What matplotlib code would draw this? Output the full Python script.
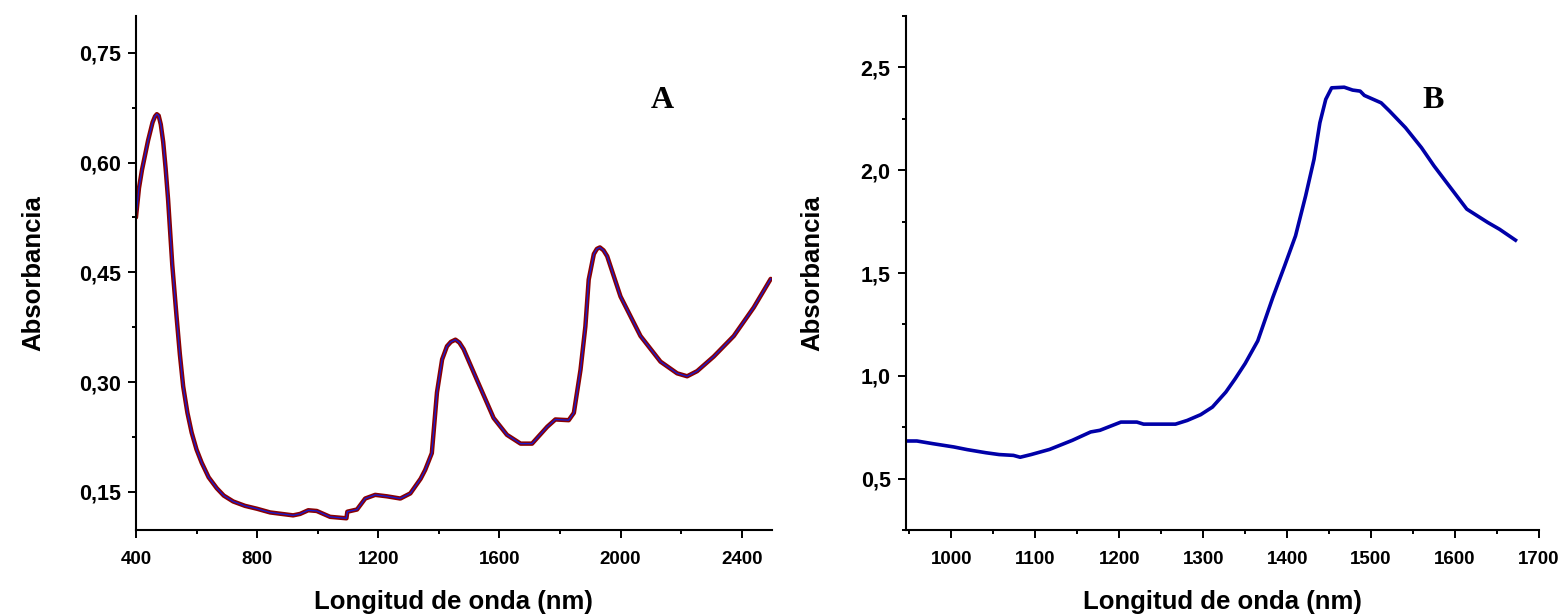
import matplotlib
matplotlib.use("Agg")
import matplotlib.pyplot as plt
from matplotlib.ticker import MultipleLocator, FuncFormatter

# Spectrum A: full range, 400-2500 nm
wavelength_a = [400, 410, 420, 440, 455, 463, 469, 475, 482, 490, 498, 506,
                520, 534, 545, 556, 570, 584, 600, 617, 640, 667, 690, 721,
                760, 800, 843, 900, 919, 942, 969, 997, 1041, 1095, 1098,
                1130, 1157, 1190, 1229, 1273, 1306, 1340, 1355, 1377, 1394,
                1411, 1427, 1440, 1455, 1468, 1482, 1526, 1581, 1625, 1670,
                1708, 1758, 1785, 1829, 1846, 1868, 1884, 1895, 1912, 1922,
                1932, 1944, 1956, 2000, 2066, 2132, 2187, 2220, 2253, 2275,
                2308, 2374, 2440, 2496]
absorbance_a = [0.525, 0.565, 0.590, 0.630, 0.655, 0.663, 0.666, 0.664,
                0.652, 0.628, 0.592, 0.550, 0.460, 0.390, 0.338, 0.294,
                0.258, 0.231, 0.208, 0.190, 0.170, 0.155, 0.145, 0.137,
                0.131, 0.127, 0.122, 0.119, 0.118, 0.120, 0.125, 0.124,
                0.116, 0.114, 0.123, 0.126, 0.141, 0.146, 0.144, 0.141,
                0.148, 0.168, 0.180, 0.203, 0.286, 0.331, 0.349, 0.355,
                0.358, 0.354, 0.345, 0.303, 0.251, 0.228, 0.216, 0.216,
                0.239, 0.249, 0.248, 0.258, 0.317, 0.376, 0.440, 0.475,
                0.482, 0.484, 0.480, 0.472, 0.417, 0.363, 0.328, 0.312,
                0.308, 0.315, 0.323, 0.335, 0.363, 0.402, 0.441]

# Spectrum B: NIR range, 950-1670 nm
wavelength_b = [946, 959, 978, 1003, 1019, 1041, 1057, 1074, 1082, 1095,
                1117, 1144, 1166, 1177, 1202, 1221, 1229, 1267, 1281, 1297,
                1311, 1327, 1338, 1350, 1365, 1383, 1397, 1410, 1422, 1432,
                1439, 1446, 1453, 1468, 1478, 1487, 1492, 1512, 1522, 1541,
                1560, 1575, 1590, 1614, 1639, 1653, 1672]
absorbance_b = [0.683, 0.683, 0.670, 0.654, 0.641, 0.626, 0.617, 0.613,
                0.604, 0.617, 0.642, 0.686, 0.727, 0.735, 0.775, 0.775,
                0.765, 0.765, 0.783, 0.811, 0.848, 0.921, 0.985, 1.06,
                1.17, 1.382, 1.535, 1.681, 1.875, 2.053, 2.231, 2.345,
                2.401, 2.404, 2.390, 2.385, 2.364, 2.328, 2.288, 2.207,
                2.110, 2.021, 1.940, 1.811, 1.746, 1.713, 1.660]

plt.rcParams['font.family'] = ['Liberation Sans', 'DejaVu Sans']
plt.rcParams['font.weight'] = 'bold'


def comma_fmt(decimals):
    """Decimal comma tick labels"""
    return FuncFormatter(lambda v, pos: f"{v:.{decimals}f}".replace('.', ','))


def style_axes(ax, ylabelpad):
    """Origin-like axes: left/bottom spines, outward ticks"""
    for side in ('top', 'right'):
        ax.spines[side].set_visible(False)
    for side in ('left', 'bottom'):
        ax.spines[side].set_linewidth(1.5)
    ax.tick_params(which='major', direction='out', length=6, width=1.4)
    ax.tick_params(which='minor', direction='out', length=3, width=1.4)
    ax.tick_params(axis='x', which='major', pad=9, labelsize=13.5)
    ax.tick_params(axis='y', which='major', pad=5, labelsize=15.5)
    for lab in ax.get_xticklabels() + ax.get_yticklabels():
        lab.set_fontweight('bold')
    ax.set_xlabel('Longitud de onda (nm)', fontsize=18.5, fontweight='bold',
                  labelpad=16)
    ax.set_ylabel('Absorbancia', fontsize=18.5, fontweight='bold',
                  labelpad=ylabelpad)


fig = plt.figure(figsize=(15.68, 6.14), dpi=100)
ax_a = fig.add_axes([0.0867, 0.1368, 0.4056, 0.837])
ax_b = fig.add_axes([0.5778, 0.1368, 0.4037, 0.837])

# Panel A: dark red trace with the blue one on top
ax_a.plot(wavelength_a, absorbance_a, color='#8b0000', linewidth=3.2,
          solid_capstyle='round', solid_joinstyle='round')
ax_a.plot(wavelength_a, absorbance_a, color='#1a1acc', linewidth=1.0,
          solid_joinstyle='round')
ax_a.set_xlim(400, 2500)
ax_a.set_ylim(0.098, 0.80)
ax_a.xaxis.set_major_locator(MultipleLocator(400))
ax_a.xaxis.set_minor_locator(MultipleLocator(200))
ax_a.yaxis.set_major_locator(MultipleLocator(0.15))
ax_a.yaxis.set_minor_locator(MultipleLocator(0.075))
ax_a.yaxis.set_major_formatter(comma_fmt(2))
style_axes(ax_a, 24)
ax_a.text(0.827, 0.835, 'A', transform=ax_a.transAxes, fontsize=23,
          fontweight='bold', family='Liberation Serif', ha='center',
          va='center')

# Panel B
ax_b.plot(wavelength_b, absorbance_b, color='#0000a8', linewidth=2.6,
          solid_joinstyle='round')
ax_b.set_xlim(946, 1700)
ax_b.set_ylim(0.25, 2.75)
ax_b.xaxis.set_major_locator(MultipleLocator(100))
ax_b.xaxis.set_minor_locator(MultipleLocator(50))
ax_b.yaxis.set_major_locator(MultipleLocator(0.5))
ax_b.yaxis.set_minor_locator(MultipleLocator(0.25))
ax_b.yaxis.set_major_formatter(comma_fmt(1))
style_axes(ax_b, 26)
ax_b.text(0.833, 0.835, 'B', transform=ax_b.transAxes, fontsize=23,
          fontweight='bold', family='Liberation Serif', ha='center',
          va='center')

fig.savefig('out.png', dpi=100)
